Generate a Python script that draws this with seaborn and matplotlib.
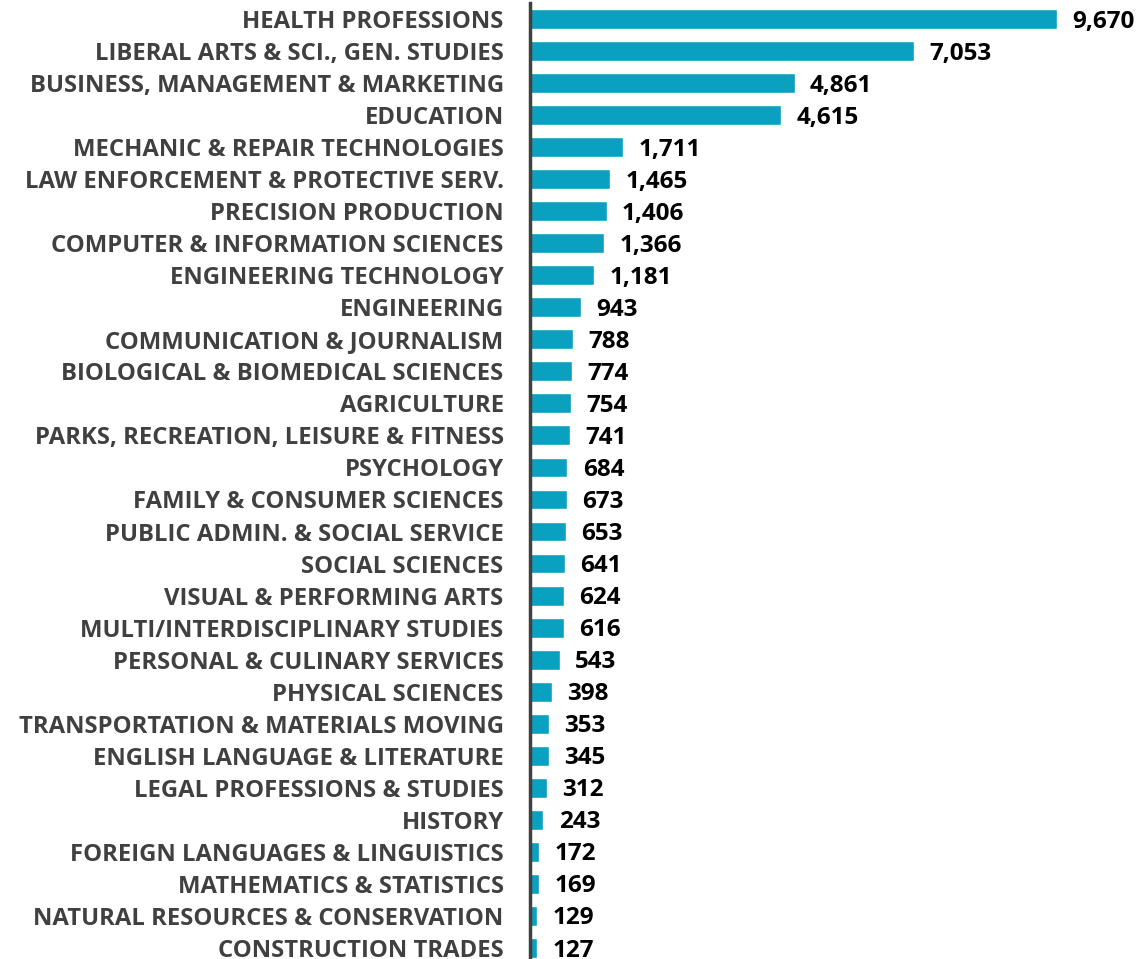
import matplotlib
matplotlib.use("Agg")
import matplotlib.pyplot as plt
import seaborn as sns
import pandas as pd

# majors and counts, top to bottom
majors = [
    "HEALTH PROFESSIONS", "LIBERAL ARTS & SCI., GEN. STUDIES",
    "BUSINESS, MANAGEMENT & MARKETING", "EDUCATION",
    "MECHANIC & REPAIR TECHNOLOGIES", "LAW ENFORCEMENT & PROTECTIVE SERV.",
    "PRECISION PRODUCTION", "COMPUTER & INFORMATION SCIENCES",
    "ENGINEERING TECHNOLOGY", "ENGINEERING", "COMMUNICATION & JOURNALISM",
    "BIOLOGICAL & BIOMEDICAL SCIENCES", "AGRICULTURE",
    "PARKS, RECREATION, LEISURE & FITNESS", "PSYCHOLOGY",
    "FAMILY & CONSUMER SCIENCES", "PUBLIC ADMIN. & SOCIAL SERVICE",
    "SOCIAL SCIENCES", "VISUAL & PERFORMING ARTS",
    "MULTI/INTERDISCIPLINARY STUDIES", "PERSONAL & CULINARY SERVICES",
    "PHYSICAL SCIENCES", "TRANSPORTATION & MATERIALS MOVING",
    "ENGLISH LANGUAGE & LITERATURE", "LEGAL PROFESSIONS & STUDIES", "HISTORY",
    "FOREIGN LANGUAGES & LINGUISTICS", "MATHEMATICS & STATISTICS",
    "NATURAL RESOURCES & CONSERVATION", "CONSTRUCTION TRADES",
]
counts = [9670, 7053, 4861, 4615, 1711, 1465, 1406, 1366, 1181, 943,
          788, 774, 754, 741, 684, 673, 653, 641, 624, 616,
          543, 398, 353, 345, 312, 243, 172, 169, 129, 127]

df = pd.DataFrame({"major": majors, "count": counts})

sns.set_style("white")
plt.rcParams["font.family"] = ["Open Sans", "DejaVu Sans"]

fig = plt.figure(figsize=(11.4, 9.59), dpi=100)
ax = fig.add_axes([0.465, -0.0052, 0.535, 1.0021])

sns.barplot(data=df, x="count", y="major", color="#0AA0BF",
            saturation=1, width=0.62, ax=ax)

ax.set_xlim(0, 11200)
ax.set_ylim(len(majors) - 0.5, -0.5)
ax.set_xlabel("")
ax.set_ylabel("")
ax.set_xticks([])
for s in ["top", "right", "bottom"]:
    ax.spines[s].set_visible(False)
ax.spines["left"].set_color("#404040")
ax.spines["left"].set_linewidth(2.5)
ax.tick_params(axis="y", length=0, pad=19)
for lbl in ax.get_yticklabels():
    lbl.set_fontsize(17.2)
    lbl.set_fontweight("bold")
    lbl.set_color("#404040")

# value labels just right of each bar, a touch below centre
for i, v in enumerate(counts):
    ax.annotate(f"{v:,}", (v, i + 0.08), xytext=(11, 0),
                textcoords="offset points", va="center", ha="left",
                fontsize=17.5, fontweight="bold", color="black")

fig.savefig("out.png", dpi=100)
